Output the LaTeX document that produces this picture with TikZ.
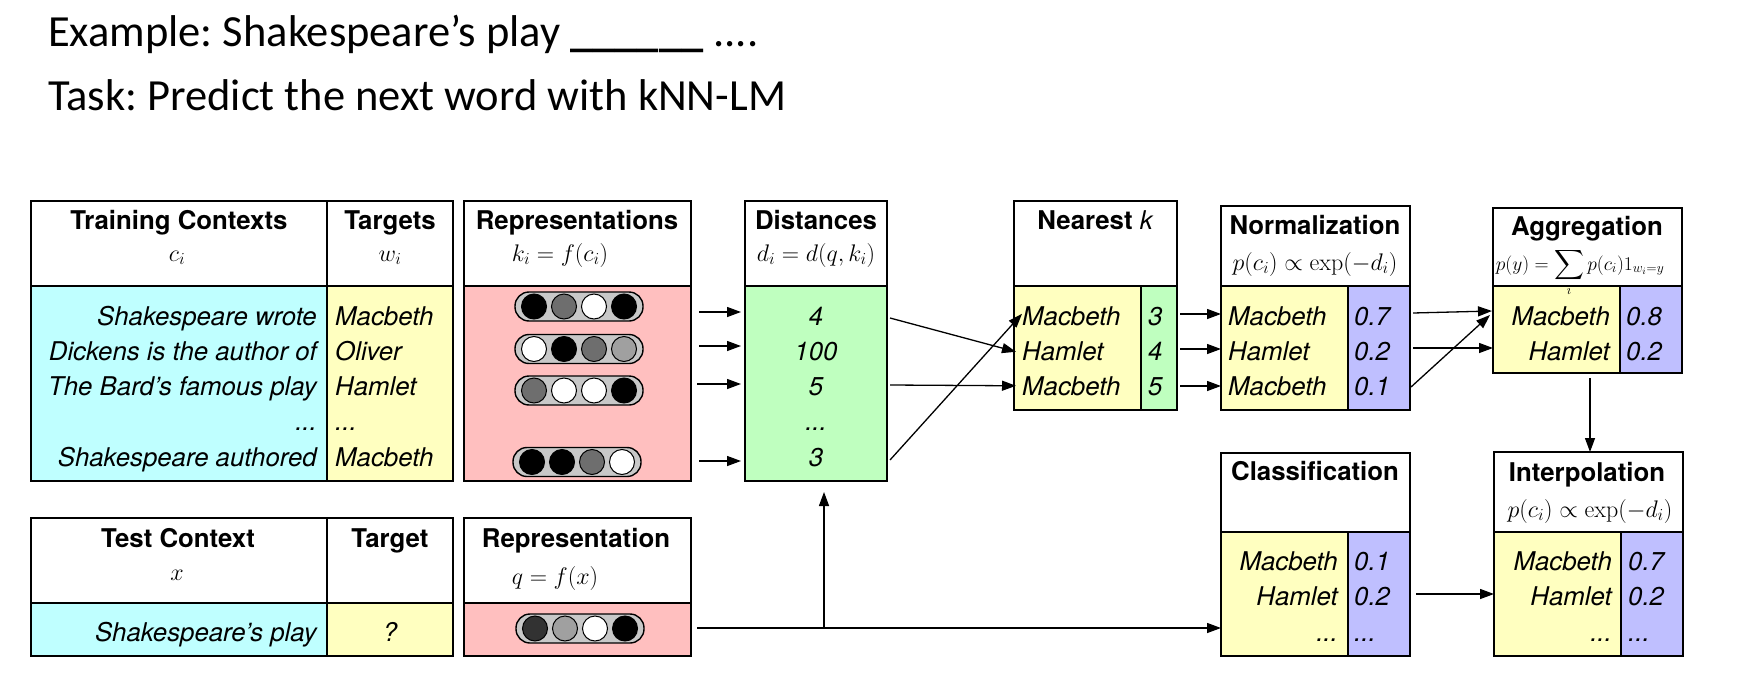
\RequirePackage{fix-cm}
\documentclass[tikz,border=0pt]{standalone}
\usepackage{exscale}
\usepackage[no-math]{fontspec}
\setmainfont{TeX Gyre Heros}
\newfontfamily\titlefont{Carlito}
\usetikzlibrary{arrows.meta}
\definecolor{ccyan}{RGB}{191,255,255}
\definecolor{cyel}{RGB}{255,255,192}
\definecolor{cpink}{RGB}{255,191,191}
\definecolor{cgreen}{RGB}{191,255,191}
\definecolor{cblue}{RGB}{191,191,255}
\definecolor{pillgray}{RGB}{200,200,200}
\definecolor{dgray}{RGB}{110,110,110}
\definecolor{lgray}{RGB}{160,160,160}
\definecolor{vdgray}{RGB}{50,50,50}
\newcommand\cellbox[6]{\node[cell, fill=#6, minimum width={#4-#2}, minimum height={#5-#3}] (#1) at (#2,#3) {};}
\newcommand\pillnode[7]{%
  \node[pillst] (#1) at (#2,#3) {};
  \node[dotst, fill=#4] (#1-1) at ([xshift=-45pt]#1.center) {};
  \node[dotst, fill=#5] (#1-2) at ([xshift=-15pt]#1.center) {};
  \node[dotst, fill=#6] (#1-3) at ([xshift=15pt]#1.center) {};
  \node[dotst, fill=#7] (#1-4) at ([xshift=45pt]#1.center) {};}
\tikzset{
  cell/.style={draw, line width=1.5pt, inner sep=0pt, outer sep=0pt, anchor=north west},
  arr/.style={-{Triangle[length=14pt,width=10pt]}, line width=1.3pt},
  body/.style={font=\fontsize{25.8}{31}\selectfont\itshape, inner sep=0pt},
  tr/.style={body, anchor=base east},
  tl/.style={body, anchor=base west},
  tc/.style={body, anchor=base},
  head/.style={font=\fontsize{25.8}{31}\selectfont\bfseries, inner sep=0pt, anchor=base},
  mth/.style={font=\fontsize{24}{29}\selectfont, inner sep=0pt, anchor=base},
  ttl/.style={font=\titlefont\fontsize{44.5}{54}\selectfont, inner sep=0pt, anchor=base west},
  pillst/.style={draw, line width=1.4pt, fill=pillgray, rounded corners=14pt, minimum width=128pt, minimum height=29pt, inner sep=0pt},
  dotst/.style={draw, line width=1pt, circle, minimum size=25pt, inner sep=0pt}
}
\begin{document}
\frenchspacing
\begin{tikzpicture}[x=1pt,y=-1pt]
\useasboundingbox (0,0) rectangle (1742,677);
% title
\node[ttl] (t1) at (48,47) {Example: Shakespeare’s play \textbf{\_\_\_\_\_\_} ....};
\node[ttl] (t2) at (48,110) {Task: Predict the next word with kNN-LM};
% boxes
\cellbox{trh1}{31}{201}{327}{286}{white}
\cellbox{trh2}{327}{201}{453}{286}{white}
\cellbox{trc}{31}{286}{327}{481}{ccyan}
\cellbox{trt}{327}{286}{453}{481}{cyel}
\cellbox{reph}{464}{201}{691}{286}{white}
\cellbox{repb}{464}{286}{691}{481}{cpink}
\cellbox{disth}{745}{201}{887}{286}{white}
\cellbox{distb}{745}{286}{887}{481}{cgreen}
\cellbox{nkh}{1014}{201}{1177}{286}{white}
\cellbox{nkw}{1014}{286}{1141}{410}{cyel}
\cellbox{nkd}{1141}{286}{1177}{410}{cgreen}
\cellbox{nmh}{1221}{206}{1410}{286}{white}
\cellbox{nmw}{1221}{286}{1348}{410}{cyel}
\cellbox{nmp}{1348}{286}{1410}{410}{cblue}
\cellbox{agh}{1493}{208}{1682}{286}{white}
\cellbox{agw}{1493}{286}{1620}{373}{cyel}
\cellbox{agp}{1620}{286}{1682}{373}{cblue}
\cellbox{clh}{1221}{453}{1410}{532}{white}
\cellbox{clw}{1221}{532}{1348}{656}{cyel}
\cellbox{clp}{1348}{532}{1410}{656}{cblue}
\cellbox{inh}{1494}{452}{1683}{532}{white}
\cellbox{inw}{1494}{532}{1621}{656}{cyel}
\cellbox{inp}{1621}{532}{1683}{656}{cblue}
\cellbox{tch1}{31}{518}{327}{603}{white}
\cellbox{tch2}{327}{518}{453}{603}{white}
\cellbox{tcc}{31}{603}{327}{656}{ccyan}
\cellbox{tct}{327}{603}{453}{656}{cyel}
\cellbox{qh}{464}{518}{691}{603}{white}
\cellbox{qb}{464}{603}{691}{656}{cpink}
% headers
\node[head] (h1) at (179,229) {Training Contexts};
\node[mth] (m1) at (177,261) {$c_i$};
\node[head] (h2) at (390,229) {Targets};
\node[mth] (m2) at (390,261) {$w_i$};
\node[head] (h3) at (577,229) {Representations};
\node[mth] (m3) at (560,261) {$k_i = f(c_i)$};
\node[head] (h4) at (816,229) {Distances};
\node[mth] (m4) at (816,261) {$d_i = d(q,k_i)$};
\node[head] (h5) at (1095,229) {Nearest {\mdseries\itshape k}};
\node[head] (h6) at (1315,234) {Normalization};
\node[mth] (m6) at (1315,270) {$p(c_i) \propto \exp(-d_i)$};
\node[head] (h7) at (1587,235) {Aggregation};
\node[mth, font=\fontsize{19.5}{23}\selectfont] (m7) at (1580,270) {$\displaystyle p(y) = \sum_i p(c_i) 1_{w_i=y}$};
\node[head] (h8) at (1315,480) {Classification};
\node[head] (h9) at (1587,481) {Interpolation};
\node[mth] (m9) at (1590,517) {$p(c_i) \propto \exp(-d_i)$};
\node[head] (h10) at (178,547) {Test Context};
\node[mth] (m10) at (177,580) {$x$};
\node[head] (h11) at (390,547) {Target};
\node[head] (h12) at (576,547) {Representation};
\node[mth] (m12) at (555,584) {$q = f(x)$};
% training rows
\node[tr] (c1) at (317,325) {Shakespeare wrote};
\node[tr] (c2) at (317,360) {Dickens is the author of};
\node[tr] (c3) at (317,395) {The Bard’s famous play};
\node[tr] (c4) at (317,430) {...};
\node[tr] (c5) at (317,466) {Shakespeare authored};
\node[tl] (w1) at (335,325) {Macbeth};
\node[tl] (w2) at (335,360) {Oliver};
\node[tl] (w3) at (335,395) {Hamlet};
\node[tl] (w4) at (335,430) {...};
\node[tl] (w5) at (335,466) {Macbeth};
\pillnode{p1}{579}{306.5}{black}{dgray}{white}{black}
\pillnode{p2}{579}{349}{white}{black}{dgray}{lgray}
\pillnode{p3}{579}{390.5}{dgray}{white}{white}{black}
\pillnode{p5}{577}{462}{black}{black}{dgray}{white}
% distances
\node[tc] (d1) at (816,325) {4};
\node[tc] (d2) at (816,360) {100};
\node[tc] (d3) at (816,395) {5};
\node[tc] (d4) at (816,430) {...};
\node[tc] (d5) at (816,466) {3};
% nearest
\node[tl] (n1) at (1022,325) {Macbeth};
\node[tl] (n2) at (1022,360) {Hamlet};
\node[tl] (n3) at (1022,395) {Macbeth};
\node[tl] (nd1) at (1148,325) {3};
\node[tl] (nd2) at (1148,360) {4};
\node[tl] (nd3) at (1148,395) {5};
% normalization
\node[tl] (o1) at (1228,325) {Macbeth};
\node[tl] (o2) at (1228,360) {Hamlet};
\node[tl] (o3) at (1228,395) {Macbeth};
\node[tl] (op1) at (1354,325) {0.7};
\node[tl] (op2) at (1354,360) {0.2};
\node[tl] (op3) at (1354,395) {0.1};
% aggregation
\node[tr] (g1) at (1610,325) {Macbeth};
\node[tr] (g2) at (1610,360) {Hamlet};
\node[tl] (gp1) at (1626,325) {0.8};
\node[tl] (gp2) at (1626,360) {0.2};
% classification
\node[tr] (k1) at (1338,570) {Macbeth};
\node[tr] (k2) at (1338,605.5) {Hamlet};
\node[tr] (k3) at (1338,641) {...};
\node[tl] (kp1) at (1354,570) {0.1};
\node[tl] (kp2) at (1354,605.5) {0.2};
\node[tl] (kp3) at (1354,641) {...};
% interpolation
\node[tr] (i1) at (1612,570) {Macbeth};
\node[tr] (i2) at (1612,605.5) {Hamlet};
\node[tr] (i3) at (1612,641) {...};
\node[tl] (ip1) at (1628,570) {0.7};
\node[tl] (ip2) at (1628,605.5) {0.2};
\node[tl] (ip3) at (1628,641) {...};
% test row
\node[tr] (x1) at (317,641) {Shakespeare’s play};
\node[tc] (x2) at (390,641) {?};
\pillnode{pq}{580}{628.5}{vdgray}{lgray}{white}{black}
% arrows rep -> distances
\coordinate (a1) at (699,312);
\coordinate (a2) at (699,346);
\coordinate (a3) at (697,384);
\coordinate (a4) at (699,461);
\foreach \a in {a1,a2,a3,a4} \draw[arr, shorten >=4pt] (\a) -- (\a -| distb.west);
% distances -> nearest
\coordinate (b1) at (890,318);
\coordinate (b2) at (890,385);
\coordinate (b3) at (890,460);
\draw[arr] (b1) -- ([xshift=-6pt,yshift=-1pt]n2.west);
\draw[arr] (b2) -- ([xshift=-6pt]n3.west);
\draw[arr] (b3) -- ([yshift=2pt]n1.west);
% nearest -> normalization
\coordinate (e1) at (1180,314);
\coordinate (e2) at (1180,349);
\coordinate (e3) at (1180,386);
\foreach \a in {e1,e2,e3} \draw[arr] (\a) -- (\a -| nmw.west);
% normalization -> aggregation
\coordinate (f1) at (1413,313);
\coordinate (f2) at (1413,348);
\coordinate (f3) at (1411,387);
\coordinate (g1e) at (1492,311);
\coordinate (g3e) at (1490,315);
\draw[arr] (f1) -- (g1e);
\draw[arr] (f2) -- (f2 -| agw.west);
\draw[arr] (f3) -- (g3e);
% aggregation -> interpolation
\coordinate (v1) at (1590,378);
\draw[arr] (v1) -- (v1 |- inh.north);
% classification -> interpolation
\coordinate (u1) at (1416,594);
\draw[arr] (u1) -- (u1 -| inw.west);
% test representation -> classification and distances
\coordinate (q1) at (697,628);
\coordinate (br) at (824,628);
\draw[arr] (q1) -- (q1 -| clw.west);
\draw[arr, shorten >=11pt] (br) -- (br |- distb.south);
\end{tikzpicture}
\end{document}
